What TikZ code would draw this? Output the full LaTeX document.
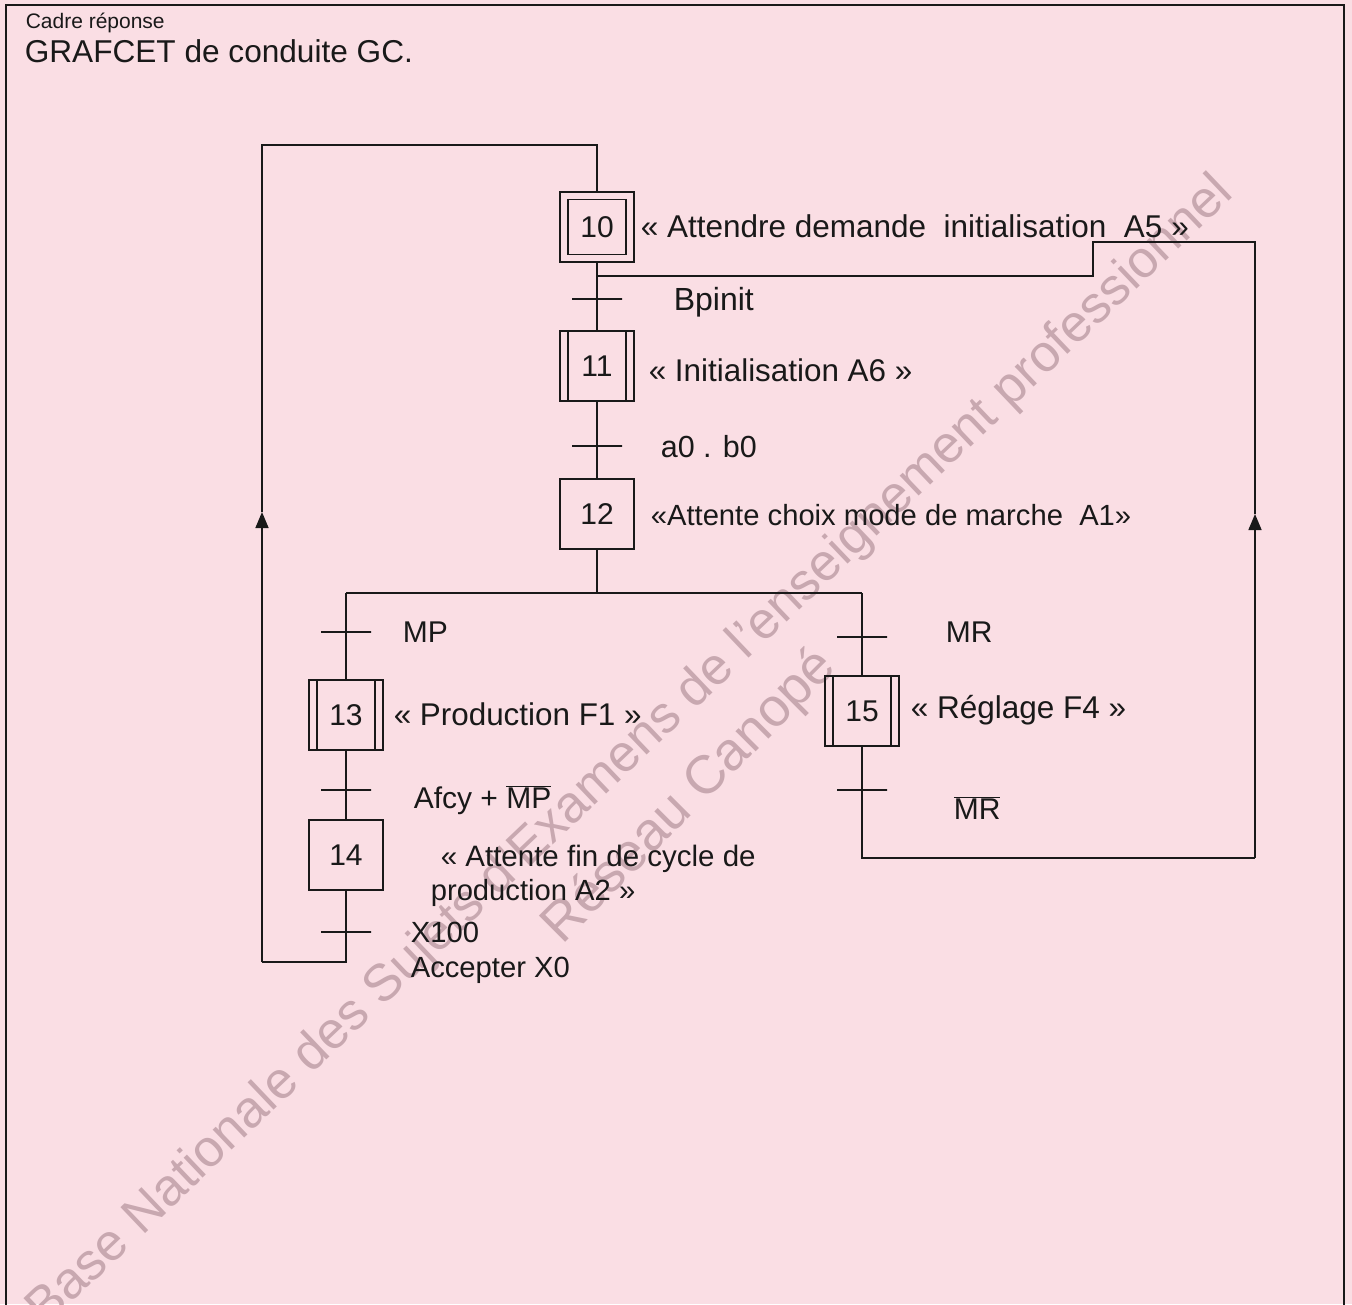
\documentclass[tikz,border=0pt]{standalone}
\usepackage{fontspec}
\setmainfont{Liberation Sans}
\usetikzlibrary{arrows.meta}
\definecolor{bgpink}{RGB}{250,222,228}
\definecolor{wmark}{RGB}{200,168,176}
\definecolor{ink}{RGB}{25,25,25}
\begin{document}
\begin{tikzpicture}[x=1pt,y=-1pt,
  line width=1.6pt, draw=ink,
  txt/.style={font=\fontsize{#1}{#1}\selectfont, text=ink, inner sep=0pt, anchor=base west},
  txt/.default=30,
  stepbox/.style={draw=ink, line width=1.6pt, minimum width=74pt, minimum height=70pt, inner sep=0pt, text=ink, font=\fontsize{30}{34}\selectfont},
  innerbox/.style={draw=ink, line width=1.6pt, minimum width=58pt, minimum height=55pt, inner sep=0pt, text=ink, font=\fontsize{30}{34}\selectfont},
  encaps/.style={stepbox, path picture={\draw[ink, line width=1.4pt]
      ([xshift=8pt]path picture bounding box.north west) -- ([xshift=8pt]path picture bounding box.south west)
      ([xshift=-8pt]path picture bounding box.north east) -- ([xshift=-8pt]path picture bounding box.south east);}},
  trans/.style={draw=ink, line width=1.6pt, minimum width=50pt, minimum height=0pt, inner sep=0pt},
  link/.style={draw=ink, line width=1.6pt},
  uparrow/.style={-{Triangle[width=13pt,length=16pt]}},
  wm/.style={font=\fontsize{#1}{#1}\selectfont, text=wmark},
  wm/.default=54
]
% background and bounding box
\fill[bgpink] (0,0) rectangle (1352,1304);
\useasboundingbox (0,0) rectangle (1352,1304);

% watermark
\node[wm=52, rotate=43.6] (wm1) at (631,752) {Base Nationale des Sujets d'Examens de l'enseignement professionnel};
\node[wm=54, rotate=45] (wm2) at (690,797) {Réseau Canopé};

% frame
\draw[ink, line width=1.8pt] (6,1310) -- (6,5) -- (1344,5) -- (1344,1310);
\node[txt=21] (cadre) at (25,28) {Cadre réponse};
\node[txt=31.6] (titre) at (24,62) {GRAFCET de conduite GC.};

% steps
\node[stepbox] (s10) at (597,227) {};
\node[innerbox] (s10i) at (597,227) {10};
\node[encaps] (s11) at (597,366) {11};
\node[stepbox] (s12) at (597,514) {12};
\node[encaps] (s13) at (346,715) {13};
\node[stepbox] (s14) at (346,855) {14};
\node[encaps] (s15) at (862,711) {15};

% transitions
\node[trans] (t10) at (597,299) {};
\node[trans] (t11) at (597,446) {};
\node[trans] (tmp) at (346,632) {};
\node[trans] (tafcy) at (346,790) {};
\node[trans] (tx) at (346,932) {};
\node[trans] (tmr) at (862,637) {};
\node[trans] (tmrb) at (862,790) {};

% labels
\node[txt=31.5] (a10) at (640,237) {« Attendre demande\ \ initialisation\ \ A5 »};
\node[txt=32] (c10) at (673,310) {Bpinit};
\node[txt=31.4] (a11) at (648,381) {« Initialisation A6 »};
\node[txt=30.5] (c11) at (660,457) {a0 . b0};
\node[txt=29.2] (a12) at (650,525) {«Attente choix mode de marche\ \ A1»};
\node[txt] (cmp) at (402,642) {MP};
\node[txt=31.4] (a13) at (393,725) {« Production F1 »};
\node[txt] (cafcy) at (413,808) {Afcy + $\overline{\mbox{MP}}$};
\node[txt=29.5] (a14a) at (440,866) {« Attente fin de cycle de};
\node[txt=29.2] (a14b) at (430,900) {production A2 »};
\node[txt=29.2] (cx1) at (410,942) {X100};
\node[txt=29.2] (cx2) at (410,977) {Accepter X0};
\node[txt] (cmr) at (945,642) {MR};
\node[txt=31.5] (a15) at (910,718) {« Réglage F4 »};
\node[txt] (cmrb) at (953,819) {$\overline{\mbox{MR}}$};

% coordinates
\coordinate (j10) at (597,276);
\coordinate (dc) at (597,593);
\coordinate (dl) at (346,593);
\coordinate (dr) at (862,593);
\coordinate (lb) at (346,962);
\coordinate (ll) at (262,962);
\coordinate (la) at (262,512);
\coordinate (lt) at (262,145);
\coordinate (lt2) at (597,145);
\coordinate (rb) at (862,858);
\coordinate (rr) at (1255,858);
\coordinate (ra) at (1255,514);
\coordinate (rt) at (1255,242);
\coordinate (rs) at (1093,242);
\coordinate (rs2) at (1093,276);

% links
\draw[link] (s10) -- (t10) -- (s11) -- (t11) -- (s12) -- (dc);
\draw[link] (dl) -- (dr);
\draw[link] (dl) -- (tmp) -- (s13) -- (tafcy) -- (s14) -- (tx) -- (lb) -- (ll);
\draw[link] (dr) -- (tmr) -- (s15) -- (tmrb) -- (rb) -- (rr);
\draw[link, uparrow] (ll) -- (la);
\draw[link] (la) -- (lt) -- (lt2) -- (s10);
\draw[link, uparrow] (rr) -- (ra);
\draw[link] (ra) -- (rt) -- (rs) -- (rs2) -- (j10);
\end{tikzpicture}
\end{document}
